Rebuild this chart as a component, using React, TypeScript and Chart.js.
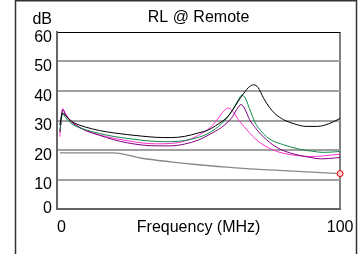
import React, { useEffect, useRef } from "react";
import { Chart, registerables } from "chart.js";

Chart.register(...registerables);

// ---- data ----
const xTickValues = [0, 100];

const limitFreq = [1, 20, 30, 40, 50, 60, 70, 80, 90, 100];
const limitDb = [19, 19, 17.2, 16, 15, 14.2, 13.5, 13, 12.5, 12];

const blackFreq = [1, 2, 3, 5, 7, 10, 15, 20, 25, 30, 35, 40, 45, 50, 53, 56, 58, 60, 62, 64, 66, 68, 69.5, 71, 73, 75, 77, 80, 84, 88, 92, 96, 100];
const blackDb = [28.5, 32.6, 31.6, 29.8, 28.8, 27.8, 26.6, 25.8, 25.2, 24.7, 24.3, 24.2, 24.6, 25.8, 26.6, 28.2, 29.5, 31, 33.5, 36.5, 39.3, 41.5, 42.1, 41.2, 37.5, 34.5, 32.3, 30.3, 28.8, 28, 28, 28.9, 30.7];

const greenFreq = [1, 2, 3, 5, 7, 10, 15, 20, 25, 30, 35, 40, 45, 50, 53, 56, 58, 60, 62, 64, 65.3, 66.5, 68, 70, 72, 74, 76, 80, 85, 90, 94, 97, 100];
const greenDb = [26.5, 32.2, 31, 29, 27.9, 26.9, 25.6, 24.6, 23.9, 23.3, 22.9, 22.8, 23.2, 24.3, 25.4, 27.2, 28.8, 30.8, 33.6, 37, 38.6, 37.6, 34, 29.2, 26.5, 24.5, 23.2, 21.8, 20.4, 19.6, 19.2, 19.3, 19.5];

const purpleFreq = [1, 2, 3, 5, 7, 10, 15, 20, 25, 30, 35, 40, 45, 50, 53, 56, 58, 60, 62, 63.5, 65, 66.5, 68, 70, 72, 74, 76, 79, 82, 86, 90, 93, 96, 100];
const purpleDb = [26, 33.7, 32, 29.6, 28.2, 26.7, 25, 23.5, 22.4, 21.7, 21.4, 21.4, 22, 23.4, 24.8, 26.4, 27.6, 29.2, 31.3, 33.8, 35.4, 33.6, 30.3, 27.6, 25.3, 23.5, 21.9, 20.2, 19.1, 18.1, 17.4, 17, 17.1, 17.5];

const magentaFreq = [1, 2, 3, 5, 7, 10, 15, 20, 25, 30, 35, 40, 45, 50, 53, 55, 57, 59, 60.5, 62, 64, 66, 68, 70, 72, 75, 78, 82, 86, 89, 93, 97, 100];
const magentaDb = [24.5, 34, 32.3, 29.8, 28.3, 26.6, 25.1, 24, 23.1, 22.4, 22.1, 22.2, 23, 25, 26.8, 28.4, 30.9, 33.3, 34.2, 33.2, 30.4, 28, 25.8, 23.8, 22.3, 20.6, 19.4, 18.5, 18, 17.8, 17.9, 18.3, 18.6];

const FONT = "'Liberation Sans', Arial, sans-serif";

const toPts = (xs: number[], ys: number[]) => xs.map((x, i) => ({ x, y: ys[i] }));

const framePlugin = {
  id: "frame",
  beforeDraw(chart: any) {
    const ctx = chart.ctx;
    ctx.save();
    ctx.fillStyle = "#fff";
    ctx.fillRect(0, 0, chart.width, chart.height);
    ctx.strokeStyle = "#333";
    ctx.lineWidth = 1.5;
    ctx.beginPath();
    ctx.moveTo(15.5, chart.height);
    ctx.lineTo(15.5, 0.75);
    ctx.lineTo(356.5, 0.75);
    ctx.lineTo(356.5, chart.height);
    ctx.stroke();
    ctx.restore();
  },
  afterDraw(chart: any) {
    const ctx = chart.ctx;
    ctx.save();
    ctx.font = `16px ${FONT}`;
    ctx.fillStyle = "#000";
    ctx.textAlign = "right";
    ctx.textBaseline = "middle";
    ctx.fillText("dB", 52, 20);
    ctx.restore();
  },
};

export default function App() {
  const ref = useRef<HTMLCanvasElement>(null);
  useEffect(() => {
    document.body.style.margin = "0";
    const line = (label: string, xs: number[], ys: number[], color: string, width = 1) => ({
      label,
      data: toPts(xs, ys),
      borderColor: color,
      backgroundColor: color,
      borderWidth: width,
      pointRadius: 0,
      fill: false,
      cubicInterpolationMode: "monotone" as const,
    });
    const chart = new Chart(ref.current!, {
      type: "line",
      data: {
        datasets: [
          {
            label: "marker",
            data: [{ x: limitFreq[limitFreq.length - 1], y: limitDb[limitDb.length - 1] }],
            showLine: false,
            pointRadius: 3,
            pointBorderWidth: 1,
            borderColor: "#e00000",
            backgroundColor: "#ffd0d0",
            clip: false as any,
          },
          line("black", blackFreq, blackDb, "#000000"),
          line("green", greenFreq, greenDb, "#108a4a"),
          line("purple", purpleFreq, purpleDb, "#800080"),
          line("magenta", magentaFreq, magentaDb, "#ff33cc"),
          line("limit", limitFreq, limitDb, "#888888", 1.3),
        ],
      },
      options: {
        animation: false,
        responsive: false,
        devicePixelRatio: 1,
        color: "#000",
        layout: { padding: { left: 0, right: 18, top: 0, bottom: 0 } },
        plugins: {
          legend: { display: false },
          tooltip: { enabled: false },
          title: {
            display: true,
            text: "RL @ Remote",
            fullSize: false,
            color: "#000",
            font: { family: FONT, size: 16, weight: "normal" as any },
            padding: { top: 8, bottom: 4.8 },
          },
        },
        scales: {
          x: {
            type: "linear",
            min: 0,
            max: 100,
            afterBuildTicks: (scale: any) => {
              scale.ticks = xTickValues.map((v) => ({ value: v }));
            },
            afterFit: (scale: any) => {
              scale.height = 45;
            },
            ticks: {
              color: "#000",
              font: { family: FONT, size: 16 },
              padding: 8.5,
              maxRotation: 0,
              autoSkip: false,
              callback: (v: any) => (Number(v) === 0 ? "  0" : String(v)),
            },
            grid: {
              drawTicks: false,
              color: (c: any) => (c.tick && c.tick.value === 100 ? "#808080" : "rgba(0,0,0,0)"),
              lineWidth: 2,
            },
            border: { color: "#666", width: 2 },
            title: {
              display: true,
              text: "Frequency (MHz)",
              color: "#000",
              font: { family: FONT, size: 16 },
              padding: { top: 0, bottom: 17 },
            },
          },
          y: {
            type: "linear",
            min: 0,
            max: 60,
            afterFit: (scale: any) => {
              scale.width = 57;
            },
            ticks: {
              stepSize: 10,
              color: "#000",
              font: { family: FONT, size: 16, lineHeight: 0.75 },
              padding: 5,
              labelOffset: 5.5,
              callback: (v: any) => (Number(v) === 0 ? ["0", ""] : String(v)),
            },
            grid: {
              drawTicks: false,
              color: (c: any) => {
                const v = c.tick ? c.tick.value : null;
                if (v === 60) return "#000";
                if (v === 0) return "#666";
                return "#a0a0a0";
              },
              lineWidth: (c: any) => (c.tick && c.tick.value === 60 ? 1 : 2),
            },
            border: { color: "#666", width: 2 },
          },
        },
      },
      plugins: [framePlugin],
    });
    return () => chart.destroy();
  }, []);
  return (
    <div style={{ width: 362, height: 254, position: "relative" }}>
      <canvas ref={ref} width={362} height={254} style={{ display: "block" }} />
    </div>
  );
}
